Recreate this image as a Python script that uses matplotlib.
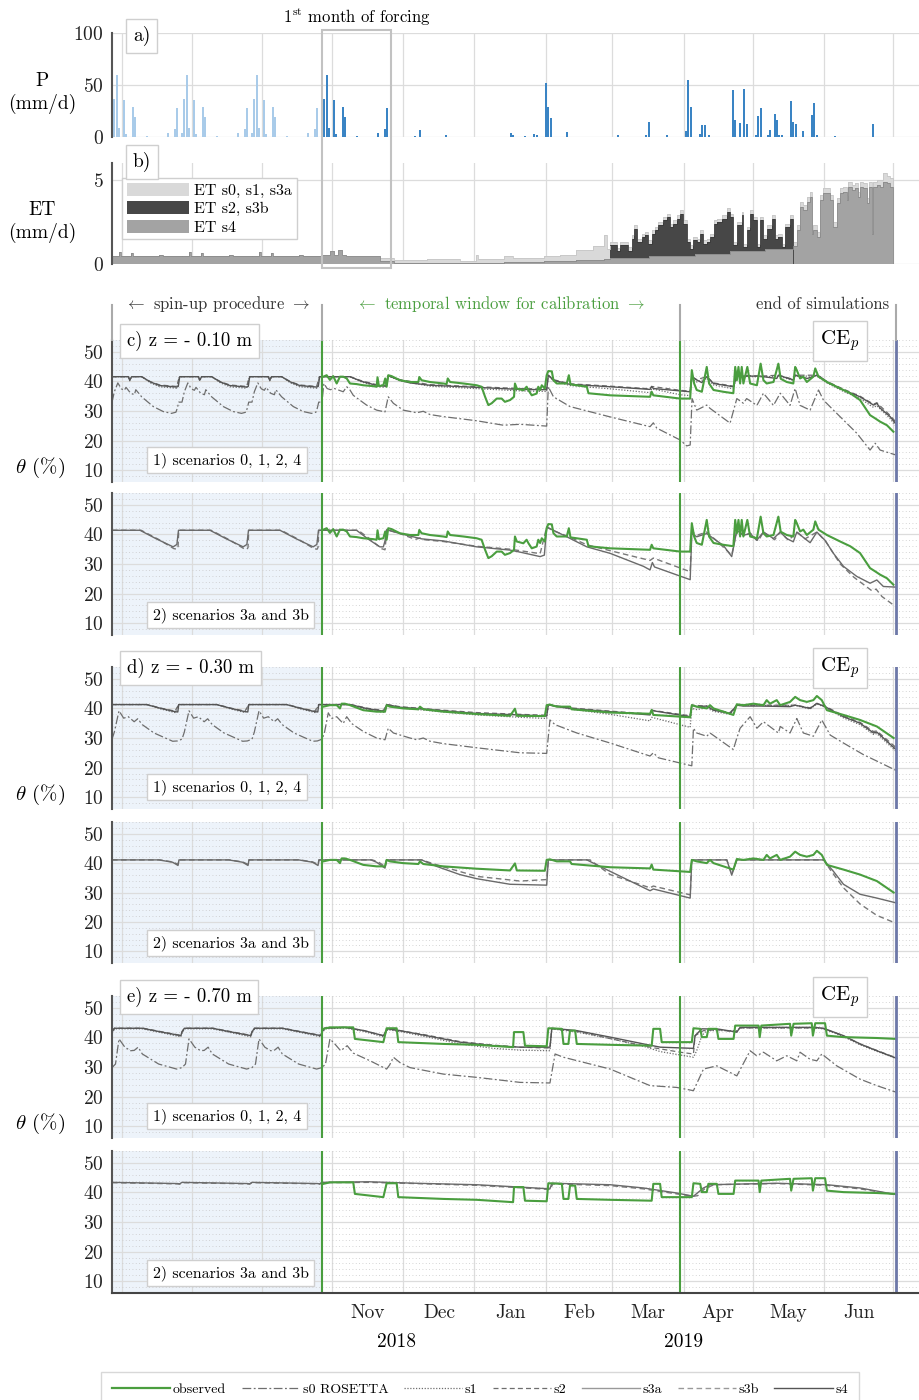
import matplotlib.pyplot as plt
from matplotlib.lines import Line2D
from matplotlib.patches import Patch, Rectangle
from matplotlib.ticker import MultipleLocator

plt.rcParams['font.family'] = ['cmr10', 'DejaVu Serif']
plt.rcParams['mathtext.fontset'] = 'cm'
plt.rcParams['axes.formatter.use_mathtext'] = True
plt.rcParams['axes.unicode_minus'] = False

# time axis: days from the start of the calibration window,
# the spin-up replays the first month of forcing three times before day 0
SPIN_STARTS = [-90, -60, -30]
CAL_END = 153.4
SIM_END = 246.0
T0, T1 = -90.0, 256.3

month_lines = [-85.7, -55.7, -25.7, 4.5, 34.9, 65.3, 96.2, 124.3, 155.0, 184.6, 215.0, 244.9]
month_names = ['Nov', 'Dec', 'Jan', 'Feb', 'Mar', 'Apr', 'May', 'Jun']
year_names = ['2018', '2019']
year_days = [32, 155]

# ---- precipitation (mm/d) ----
p_month1_day = [0, 1, 2, 3, 5, 6, 9, 10, 15, 24, 27, 28]
p_month1_mm = [4, 37, 60, 9, 36, 3, 29, 19, 1, 3.5, 7.5, 28]
p_day = [40, 42, 53, 81, 82, 87, 91, 92, 96, 97, 98, 105, 127, 139, 140, 148,
         156, 157, 158, 162, 163, 164, 166, 176, 177, 179, 181, 182, 186, 187, 188,
         191, 192, 194, 195, 196, 197, 201, 202, 203, 206, 210, 211, 212, 220, 236]
p_mm = [1, 6.5, 2, 4, 2, 1, 3, 1.5, 51.6, 28.4, 18.6, 4.6, 1.6, 1.5, 14.4, 1.6,
        6, 55, 29, 3, 12, 12, 1.5, 45, 16, 13.7, 46, 12.5, 2, 20, 27.8,
        2, 7, 22, 16, 1.5, 1.5, 34.6, 14, 12.4, 5.6, 21, 32.4, 2, 0.5, 12.4]

# ---- evapotranspiration (mm/d), step series ----
et_spin_day = [0, 3, 4, 8, 9, 15, 20, 22, 30]
et_spin = [0.45, 0.7, 0.45, 0.65, 0.5, 0.45, 0.55, 0.45, 0.45]

et_early_day = [0, 3.5, 5, 7, 8.5, 10.5, 25, 31, 45, 59, 66, 67, 78, 82, 95, 102, 109, 116, 121, 122]
et_s4_early = [0.55, 0.75, 0.55, 0.85, 0.55, 0.5, 0.15, 0.08, 0.06, 0.06, 0.08, 0.08, 0.1, 0.12,
               0.15, 0.18, 0.22, 0.25, 0.3, 0.32]
et_s0_early = [0.55, 0.75, 0.55, 0.85, 0.55, 0.5, 0.35, 0.25, 0.3, 0.2, 0.55, 0.3, 0.45, 0.35,
               0.45, 0.55, 0.85, 1.05, 1.75, 0.9]

et_mid_day = [123.5, 126.3, 127.7, 131.3, 132.7, 133.7, 134.9, 137, 138.5, 139.9,
              141.3, 142.7, 144.2, 146.3, 147.7, 149.2, 150.6, 152, 153.5, 154.9,
              156.3, 157.7, 159.2, 160.6, 162, 163.5, 164.9, 166.3, 167.8, 169.2,
              171.3, 173.5, 174.9, 176.3, 177.8, 179.9, 180.6, 182, 183.5, 184.9,
              186.3, 187.8, 189.2, 190.6, 192.8, 194.2, 195.6, 197, 198.5, 200.6]
et_s2_mid = [1.15, 0.8, 1.15, 0.8, 1.5, 2.1, 1.3, 1.6, 1.7, 1.2,
             1.8, 2.0, 2.3, 2.6, 2.8, 2.2, 2.4, 2.7, 3.0, 2.4,
             1.3, 0.9, 1.4, 1.3, 1.8, 1.2, 1.3, 1.6, 2.4, 2.5,
             2.7, 3.1, 2.8, 1.1, 2.3, 2.9, 1.0, 2.0, 3.0, 2.6,
             1.0, 2.6, 1.5, 2.1, 2.7, 1.5, 1.6, 1.0, 2.2, 2.7]
et_s0_mid = [1.3, 0.95, 1.3, 1.0, 1.7, 2.3, 1.5, 1.8, 1.9, 1.4,
             2.0, 2.2, 2.5, 2.8, 3.0, 2.4, 2.6, 2.9, 3.2, 2.6,
             1.5, 1.1, 1.6, 1.5, 2.0, 1.4, 1.5, 1.8, 2.6, 2.7,
             2.9, 3.3, 3.0, 1.3, 2.5, 3.1, 1.2, 2.2, 3.2, 2.8,
             1.2, 2.8, 1.7, 2.3, 2.9, 1.7, 1.8, 1.2, 2.4, 2.9]
et_s4_mid_day = [123.5, 140, 160, 175, 190]
et_s4_mid = [0.35, 0.45, 0.6, 0.75, 0.9]

et_late_day = [202, 203.5, 204.9, 206.3, 207.8, 209.2, 209.9, 210.6, 212, 213.5,
               214.9, 217.8, 219.2, 220.6, 222, 223.5, 224.9, 225.6, 227, 228.5,
               229.9, 230.6, 232, 233.5, 234.6, 235.6, 236.3, 237.8, 239.2, 240.6,
               242, 243.5, 244.6]
et_s4_late = [1.05, 2.0, 3.4, 3.2, 3.7, 4.0, 1.8, 2.0, 1.6, 3.8,
              4.2, 3.8, 2.2, 3.6, 4.2, 4.3, 3.8, 4.6, 4.4, 4.5,
              4.0, 4.6, 4.5, 3.6, 4.6, 1.8, 4.6, 4.7, 4.6, 4.9,
              4.8, 4.6, 0.0]
et_s0_late = [1.3, 2.3, 3.7, 3.5, 4.0, 4.3, 2.0, 2.3, 1.9, 4.1,
              4.5, 4.1, 2.5, 3.9, 4.5, 4.6, 4.1, 4.9, 4.7, 4.8,
              4.3, 4.9, 4.8, 3.9, 4.9, 2.0, 4.9, 5.0, 5.0, 5.4,
              5.2, 5.1, 0.0]

# ---- soil moisture theta (%) at z = -0.10 m ----
c_obs = [(0.6, 41.6), (2.0, 42.1), (3.4, 40.5), (4.8, 41.8), (6.3, 39.3), (7.7, 41.6), (9.1, 41.6),
         (10.6, 41.0), (12.0, 39.3), (14.8, 39.1), (17.7, 38.7), (22.0, 38.4), (23.4, 38.2), (23.8, 41.4),
         (24.4, 38.4), (26.3, 38.7), (27.1, 41.0), (27.7, 38.2), (28.4, 42.1), (29.8, 41.8), (33.4, 40.4),
         (37.7, 39.8), (41.3, 39.8), (41.7, 41.5), (42.7, 40.4), (46.3, 39.8), (52.0, 39.3), (53.4, 39.1),
         (53.9, 41.0), (54.9, 39.8), (60.6, 39.3), (66.3, 38.7), (68.4, 38.2), (69.9, 34.8), (71.3, 32.0),
         (72.7, 32.6), (74.9, 34.2), (77.0, 34.2), (78.4, 33.1), (80.6, 33.7), (82.3, 34.8), (82.7, 39.3),
         (83.5, 37.6), (86.3, 37.0), (87.7, 38.2), (88.5, 37.0), (89.9, 35.3), (92.0, 35.9), (92.7, 38.2),
         (93.5, 37.1), (94.2, 38.7), (95.5, 37.6), (96.3, 42.1), (97.0, 43.5), (98.5, 43.4), (99.2, 40.4),
         (100.6, 39.3), (104.9, 39.3), (105.8, 42.1), (106.5, 39.0), (113.5, 38.2), (114.2, 36.0),
         (123.5, 35.3), (140.6, 34.8), (141.3, 36.5), (142.0, 35.3), (153.5, 34.2), (157.8, 34.2),
         (158.5, 43.8), (159.5, 39.3), (160.6, 37.1), (162.8, 36.5), (164.9, 44.9), (165.9, 39.3),
         (167.8, 37.1), (172.0, 36.5), (176.3, 36.0), (177.1, 44.9), (177.8, 40.4), (178.5, 44.9),
         (179.2, 39.3), (179.9, 44.9), (180.6, 39.3), (182.3, 44.9), (183.5, 39.3), (186.4, 38.7),
         (188.0, 46.0), (189.2, 40.4), (190.6, 39.3), (193.5, 39.8), (195.6, 46.0), (196.6, 40.9),
         (199.2, 39.8), (202.0, 39.3), (202.8, 44.9), (203.5, 43.8), (204.9, 41.0), (206.3, 41.6),
         (207.8, 39.8), (210.6, 41.6), (211.4, 44.4), (212.8, 41.6), (216.4, 39.8), (222.1, 37.6),
         (226.4, 36.0), (230.6, 33.7), (234.9, 28.6), (237.1, 27.5), (239.2, 26.4), (242.1, 25.2),
         (244.9, 23.0)]
c_spin_s0 = [(0, 33.0), (1.0, 36.5), (2.5, 39.5), (4.0, 37.5), (5.3, 37.0), (6.0, 38.0), (8.0, 36.0),
             (9.6, 35.5), (10.2, 37.2), (12.7, 34.8), (17.7, 31.5), (22.0, 29.8), (25.5, 29.2),
             (27.4, 29.6), (28.0, 31.0), (28.6, 33.0), (30, 33.0)]
c_s0 = [(0, 33.0), (0.8, 39.3), (2.2, 37.6), (3.6, 37.2), (5.3, 37.6), (9.1, 36.5), (10.6, 38.2),
        (12.0, 37.1), (13.4, 35.3), (19.1, 32.0), (23.4, 30.3), (27.0, 29.7), (28.4, 34.8), (30.6, 32.6),
        (34.8, 30.3), (40.6, 29.4), (43.4, 29.9), (46.3, 28.8), (52.0, 28.1), (66.3, 26.7), (77.7, 25.2),
        (84.9, 25.5), (96.3, 24.9), (97.0, 38.2), (99.2, 34.8), (106.3, 31.5), (123.5, 28.0),
        (140.6, 24.7), (142.0, 26.0), (143.5, 24.2), (153.5, 20.2), (156.3, 18.2), (157.8, 18.5),
        (158.6, 34.2), (160.6, 30.3), (164.9, 32.0), (166.3, 30.9), (174.9, 25.9), (177.8, 34.2),
        (180.6, 32.6), (182.0, 34.2), (186.4, 31.9), (189.2, 36.0), (193.5, 31.9), (196.4, 36.0),
        (200.6, 31.9), (202.8, 37.6), (204.9, 31.9), (209.2, 30.3), (212.8, 37.1), (214.9, 33.7),
        (219.2, 30.3), (229.2, 22.5), (234.9, 16.8), (237.1, 19.1), (239.2, 16.8), (245.7, 15.2)]
c_spin_s1 = [(0, 41.6), (7.0, 41.6), (7.6, 40.2), (8.4, 41.6), (12.7, 41.6), (16.5, 39.5), (20.5, 38.2),
             (27.7, 37.7), (28.9, 41.6), (30, 41.6)]
c_s1 = [(0, 41.6), (12.0, 41.6), (17.0, 39.8), (23.4, 38.3), (27.1, 38.0), (28.4, 41.9), (33.4, 40.2),
        (46.3, 38.4), (60.6, 37.8), (84.9, 36.8), (96.3, 36.6), (97.0, 42.1), (99.2, 40.2), (106.3, 38.6),
        (123.5, 37.5), (140.6, 36.2), (141.3, 37.5), (153.5, 35.5), (157.8, 35.2), (158.5, 41.0),
        (160.6, 39.8), (164.9, 41.0), (167.8, 38.8), (176.3, 37.5), (177.8, 41.8), (188.0, 41.5),
        (195.6, 41.8), (202.0, 40.3), (202.8, 41.8), (212.1, 41.8), (216.4, 39.5), (223.5, 36.6),
        (230.6, 34.2), (236.4, 31.2), (237.8, 31.8), (243.5, 27.4), (245.7, 25.2)]
c_spin_s2 = [(0, 41.6), (7.0, 41.6), (7.6, 40.6), (8.4, 41.6), (12.7, 41.6), (16.5, 39.9), (20.5, 38.8),
             (27.7, 38.3), (28.9, 41.6), (30, 41.6)]
c_s2 = [(0, 41.6), (12.0, 41.6), (17.0, 40.2), (23.4, 38.9), (27.1, 38.6), (28.4, 41.9), (33.4, 40.6),
        (46.3, 38.9), (60.6, 38.4), (84.9, 37.6), (96.3, 37.4), (97.0, 42.1), (99.2, 40.6), (106.3, 39.2),
        (123.5, 38.4), (140.6, 37.5), (141.3, 38.3), (153.5, 37.0), (157.8, 36.7), (158.5, 41.6),
        (160.6, 40.6), (164.9, 41.6), (167.8, 39.5), (176.3, 38.4), (177.8, 42.1), (188.0, 41.8),
        (195.6, 42.1), (202.0, 40.7), (202.8, 42.1), (212.1, 42.1), (216.4, 40.0), (223.5, 37.4),
        (230.6, 35.0), (236.4, 32.3), (237.8, 32.8), (243.5, 28.5), (245.7, 26.5)]
c_spin_s4 = [(0, 41.6), (7.0, 41.6), (7.6, 40.4), (8.4, 41.6), (12.7, 41.6), (16.5, 39.8), (20.5, 38.6),
             (27.7, 38.1), (28.4, 38.3), (29.0, 41.6), (30, 41.6)]
c_s4 = [(0, 41.6), (12.0, 41.6), (17.0, 40.0), (23.4, 38.7), (27.1, 38.4), (27.7, 38.6), (28.4, 41.9),
        (33.4, 40.4), (37.7, 39.5), (46.3, 38.7), (60.6, 38.2), (84.9, 37.3), (96.3, 37.2), (97.0, 42.1),
        (99.2, 40.4), (106.3, 39.0), (123.5, 38.2), (140.6, 37.3), (141.3, 38.3), (142.0, 37.6),
        (153.5, 36.8), (157.8, 36.5), (158.5, 41.6), (160.6, 40.5), (162.8, 39.6), (164.9, 41.6),
        (167.8, 39.3), (176.3, 38.2), (177.8, 42.1), (179.2, 41.8), (188.0, 41.8), (189.2, 41.6),
        (194.9, 41.0), (195.6, 42.1), (202.0, 40.5), (202.8, 42.1), (208.0, 41.0), (212.1, 42.1),
        (213.5, 41.6), (216.4, 39.8), (223.5, 37.1), (230.6, 34.8), (236.4, 32.0), (237.8, 32.6),
        (239.2, 31.0), (243.5, 28.1), (245.7, 25.9)]
c_spin_s3a = [(0, 41.4), (12.0, 41.4), (19.0, 38.5), (26.2, 35.8), (27.8, 36.6), (28.5, 41.4), (30, 41.4)]
c_s3a = [(0, 41.4), (14.8, 41.4), (20.0, 38.3), (24.8, 35.8), (26.3, 35.8), (27.0, 37.8), (27.7, 41.6),
         (33.4, 40.3), (42.7, 38.5), (52.0, 37.8), (66.3, 35.8), (80.6, 34.7), (85.0, 34.0), (93.5, 32.5),
         (95.3, 33.0), (96.3, 42.5), (99.2, 41.4), (104.9, 39.2), (113.5, 35.8), (123.5, 33.6),
         (137.8, 29.2), (140.6, 28.0), (141.6, 30.5), (142.5, 29.0), (157.8, 24.7), (158.5, 40.3),
         (160.6, 39.2), (164.9, 40.3), (167.8, 38.6), (172.0, 36.3), (175.6, 32.5), (177.8, 41.4),
         (180.6, 39.7), (183.5, 40.3), (186.3, 38.0), (189.2, 40.8), (193.5, 38.6), (196.4, 40.8),
         (199.2, 38.6), (202.0, 37.5), (203.5, 40.8), (206.3, 39.0), (209.2, 37.2), (212.1, 40.8),
         (215.6, 38.0), (219.2, 33.6), (223.5, 29.2), (229.2, 25.8), (234.9, 23.5), (237.8, 24.6),
         (240.6, 22.4), (245.7, 22.2)]
c_spin_s3b = [(0, 41.4), (12.5, 41.4), (20.0, 38.3), (26.5, 35.2), (27.9, 35.0), (28.3, 35.6), (28.6, 41.4),
              (30, 41.4)]
c_s3b = [(0, 41.4), (15.5, 41.4), (20.5, 38.5), (25.5, 35.2), (27.0, 34.8), (27.8, 41.6), (33.4, 40.3),
         (40.0, 38.3), (42.0, 38.8), (44.0, 38.2), (52.0, 37.6), (66.3, 36.0), (80.6, 35.0), (93.5, 33.5),
         (96.3, 42.5), (99.2, 41.2), (104.9, 39.5), (113.5, 36.5), (123.5, 34.5), (140.6, 31.2),
         (142.0, 32.0), (157.8, 27.4), (158.5, 40.8), (161.0, 39.8), (164.9, 40.8), (168.5, 38.3),
         (175.6, 33.0), (177.8, 41.4), (181.0, 39.5), (183.5, 40.5), (187.0, 37.8), (189.2, 40.8),
         (194.0, 38.2), (196.4, 40.8), (200.0, 38.0), (203.5, 40.8), (207.0, 38.5), (212.1, 40.8),
         (216.0, 37.5), (222.1, 30.0), (228.0, 25.5), (235.6, 21.0), (237.5, 21.5), (240.0, 19.0),
         (245.7, 15.7)]

# ---- soil moisture theta (%) at z = -0.30 m ----
d_obs = [(0.6, 40.6), (3.4, 41.1), (6.3, 41.1), (7.7, 40.0), (8.4, 41.6), (9.8, 41.6), (12.0, 41.1),
         (17.7, 39.4), (23.4, 38.9), (27.0, 38.9), (27.7, 41.1), (29.1, 40.6), (34.8, 40.0), (41.3, 39.7),
         (42.0, 40.6), (43.4, 39.7), (52.0, 38.9), (66.3, 38.1), (80.6, 37.5), (82.7, 39.9), (83.5, 37.5),
         (95.5, 37.4), (96.3, 41.1), (97.7, 41.3), (100.6, 40.6), (106.3, 40.6), (107.0, 39.7),
         (123.5, 38.6), (140.6, 38.2), (141.3, 39.5), (142.0, 37.8), (157.8, 37.0), (158.5, 41.1),
         (160.6, 40.6), (164.9, 40.0), (166.3, 41.1), (167.8, 40.0), (176.3, 37.8), (177.8, 41.4),
         (180.6, 41.1), (184.9, 41.6), (189.2, 41.1), (190.6, 42.8), (192.0, 41.6), (194.9, 42.8),
         (196.4, 41.1), (200.6, 42.2), (202.8, 43.9), (204.9, 42.8), (207.8, 42.2), (210.6, 42.8),
         (212.1, 44.2), (214.2, 42.8), (216.4, 39.4), (223.5, 37.8), (230.6, 36.1), (237.8, 33.9),
         (245.0, 30.0)]
d_spin_s0 = [(0, 29.6), (1.0, 32.0), (3.0, 39.2), (5.0, 36.7), (7.0, 37.2), (9.5, 35.5), (11.0, 36.5),
             (13.0, 34.5), (18.0, 31.7), (26.0, 28.9), (28.0, 29.0), (30, 29.6)]
d_s0 = [(0, 29.6), (1.0, 31.6), (2.7, 38.5), (4.1, 36.6), (6.3, 37.2), (9.1, 34.9), (10.6, 37.2),
        (12.7, 34.9), (17.7, 32.2), (23.4, 30.0), (27.0, 29.4), (28.4, 33.3), (30.6, 31.7), (37.7, 30.0),
        (40.6, 29.4), (43.4, 30.0), (46.3, 28.9), (52.0, 28.1), (66.3, 26.7), (84.9, 25.0), (96.3, 24.8),
        (97.7, 36.1), (99.9, 34.5), (109.2, 31.7), (123.5, 28.3), (140.6, 23.9), (142.0, 25.0),
        (144.2, 23.3), (158.5, 20.6), (159.2, 33.3), (160.6, 31.7), (164.9, 30.6), (166.3, 31.7),
        (176.3, 26.1), (177.8, 30.0), (179.2, 33.3), (183.5, 37.2), (186.4, 33.3), (189.2, 35.5),
        (195.6, 31.7), (196.4, 33.9), (200.6, 31.7), (203.5, 36.6), (206.3, 31.7), (210.6, 30.6),
        (214.2, 36.1), (217.8, 31.0), (223.5, 28.3), (232.0, 24.4), (237.8, 22.2), (246.4, 18.9)]
d_spin_s1 = [(0, 41.3), (14.8, 41.3), (21.0, 39.8), (27.0, 38.6), (28.6, 41.3), (30, 41.3)]
d_s1 = [(0, 41.3), (12.0, 41.3), (20.0, 39.5), (26.3, 38.7), (27.7, 41.3), (33.4, 40.2), (52.0, 38.8),
        (66.3, 37.8), (84.9, 37.0), (96.3, 36.6), (97.0, 41.3), (106.3, 39.8), (123.5, 38.0), (140.6, 35.8),
        (141.3, 37.0), (157.8, 33.6), (158.5, 40.0), (160.6, 39.6), (164.9, 40.2), (167.8, 39.0),
        (174.9, 38.0), (177.8, 41.0), (202.8, 41.0), (209.2, 39.8), (212.1, 41.5), (215.6, 40.4),
        (223.5, 36.8), (230.6, 34.5), (236.4, 31.2), (237.8, 31.5), (246.0, 25.5)]
d_spin_s2 = [(0, 41.3), (15.2, 41.3), (21.0, 40.1), (27.0, 39.1), (28.6, 41.3), (30, 41.3)]
d_s2 = [(0, 41.3), (12.5, 41.3), (20.0, 40.0), (26.3, 39.3), (27.7, 41.3), (33.4, 40.6), (52.0, 39.4),
        (66.3, 38.6), (84.9, 38.0), (96.3, 37.7), (97.0, 41.3), (106.3, 40.2), (123.5, 39.1),
        (140.6, 38.1), (141.3, 39.4), (157.8, 37.5), (158.5, 41.1), (164.9, 40.8), (167.8, 39.6),
        (174.9, 38.6), (177.8, 41.1), (202.8, 41.1), (209.2, 40.2), (212.1, 41.7), (215.6, 40.8),
        (223.5, 37.5), (230.6, 35.3), (236.4, 32.2), (237.8, 32.4), (246.0, 26.8)]
d_spin_s4 = [(0, 41.3), (14.8, 41.3), (21.0, 40.0), (27.0, 38.9), (28.2, 38.8), (28.6, 41.3), (30, 41.3)]
d_s4 = [(0, 41.3), (12.0, 41.3), (20.0, 39.8), (26.3, 39.1), (27.0, 38.9), (27.7, 41.3), (33.4, 40.4),
        (42.0, 39.9), (52.0, 39.2), (66.3, 38.3), (84.9, 37.8), (96.3, 37.4), (97.0, 41.3), (99.2, 40.8),
        (106.3, 40.0), (123.5, 38.9), (140.6, 37.8), (141.3, 39.4), (142.0, 39.2), (157.8, 37.2),
        (158.5, 41.1), (160.6, 40.6), (164.9, 40.8), (167.8, 39.4), (174.9, 38.3), (177.8, 41.1),
        (180.6, 40.8), (188.0, 40.8), (200.6, 40.6), (202.8, 41.1), (209.2, 40.0), (212.1, 41.7),
        (215.6, 40.6), (223.5, 37.2), (230.6, 35.0), (236.4, 31.7), (237.8, 32.0), (240.6, 30.0),
        (246.0, 26.1)]
d_spin_s3a = [(0, 41.1), (20.0, 41.1), (26.0, 40.3), (28.3, 39.2), (28.7, 41.1), (30, 41.1)]
d_s3a = [(0, 41.1), (21.0, 41.1), (23.4, 40.3), (27.0, 38.3), (27.7, 41.1), (42.7, 41.1), (49.1, 38.9),
         (59.1, 36.1), (66.3, 34.7), (80.6, 32.8), (96.3, 32.5), (97.0, 41.1), (113.5, 41.1), (123.5, 37.2),
         (140.6, 30.6), (142.0, 31.2), (157.8, 28.1), (158.5, 41.1), (173.5, 41.1), (175.6, 35.9),
         (177.8, 41.1), (215.0, 41.1), (219.2, 37.2), (223.5, 32.8), (230.6, 29.4), (237.8, 28.1),
         (246.4, 26.4)]
d_spin_s3b = [(0, 41.1), (20.5, 41.1), (26.0, 40.4), (28.3, 39.6), (28.7, 41.1), (30, 41.1)]
d_s3b = [(0, 41.1), (21.5, 41.1), (24.0, 40.5), (27.0, 38.8), (27.7, 41.1), (42.7, 41.1), (50.0, 39.2),
         (66.3, 35.5), (84.9, 33.9), (96.3, 34.4), (97.0, 41.1), (114.9, 41.1), (123.5, 36.1),
         (140.6, 31.6), (142.0, 32.2), (144.0, 31.8), (157.8, 29.2), (158.5, 41.1), (173.5, 41.1),
         (175.6, 36.3), (177.8, 41.1), (215.0, 41.1), (217.8, 37.8), (223.5, 31.6), (230.6, 26.1),
         (237.8, 22.2), (246.4, 19.4)]

# ---- soil moisture theta (%) at z = -0.70 m ----
e_obs = [(0.6, 42.9), (3.4, 43.4), (13.4, 43.4), (14.1, 39.5), (26.3, 38.4), (27.7, 43.1), (32.0, 43.1),
         (32.7, 38.4), (52.0, 37.8), (66.3, 37.5), (81.9, 36.7), (82.3, 41.8), (86.3, 41.8), (87.0, 37.2),
         (96.3, 37.0), (97.0, 43.1), (102.8, 42.9), (103.5, 37.8), (105.6, 37.8), (106.3, 42.3),
         (108.5, 42.3), (109.2, 37.8), (123.5, 37.5), (141.3, 37.2), (142.0, 42.9), (144.9, 42.9),
         (145.6, 38.4), (158.5, 38.4), (159.2, 43.1), (162.1, 42.9), (162.8, 40.1), (164.9, 40.1),
         (165.6, 42.9), (169.2, 42.9), (169.9, 39.5), (176.4, 39.5), (177.1, 44.0), (187.1, 44.0),
         (187.6, 40.1), (188.3, 44.0), (200.6, 44.6), (201.1, 40.6), (202.1, 44.6), (209.9, 44.8),
         (210.4, 40.6), (211.4, 44.8), (215.6, 44.8), (216.4, 40.6), (223.5, 40.1), (237.8, 39.8),
         (246.0, 39.5)]
e_spin_s0 = [(0, 29.8), (1.5, 31.0), (3.0, 39.5), (5.5, 36.7), (8.0, 35.5), (9.5, 35.6), (11.2, 36.7),
             (13.0, 34.4), (20.0, 31.0), (27.7, 29.3), (30, 29.8)]
e_s0 = [(0, 29.8), (1.5, 31.0), (3.4, 39.5), (5.5, 37.8), (8.0, 35.5), (10.8, 37.2), (13.4, 34.7),
        (20.6, 32.1), (27.7, 29.3), (29.0, 30.7), (30.6, 33.3), (33.4, 31.5), (37.7, 29.8), (52.0, 27.6),
        (66.3, 26.5), (84.9, 24.8), (97.7, 24.6), (99.9, 34.4), (103.5, 33.3), (123.5, 29.3),
        (140.6, 23.7), (152.0, 23.1), (159.2, 22.0), (163.5, 29.3), (169.2, 30.4), (177.8, 27.0),
        (183.5, 35.5), (186.3, 33.8), (189.2, 35.0), (194.9, 32.1), (199.2, 33.8), (203.5, 32.1),
        (204.9, 35.0), (209.2, 32.6), (212.1, 32.1), (214.2, 34.4), (220.6, 30.4), (230.6, 25.9),
        (237.8, 23.7), (246.4, 21.4)]
e_spin_s1 = [(0, 41.6), (1.2, 42.9), (13.0, 42.9), (20.0, 41.8), (29.5, 40.2), (30, 41.6)]
e_s1 = [(0, 41.6), (1.5, 42.9), (10.0, 43.2), (18.0, 42.0), (26.3, 40.2), (28.2, 42.6), (33.4, 42.0),
        (44.8, 40.2), (59.1, 37.8), (73.4, 36.3), (84.9, 35.7), (97.7, 35.5), (98.5, 42.9), (109.2, 41.8),
        (123.5, 39.6), (137.8, 37.0), (145.0, 35.2), (159.2, 33.3), (160.6, 35.5), (162.8, 40.6),
        (164.9, 42.3), (177.8, 42.3), (179.2, 43.2), (211.0, 43.2), (214.9, 42.9), (223.5, 40.3),
        (230.6, 37.5), (237.8, 35.3), (246.4, 32.8)]
e_spin_s2 = [(0, 42.0), (1.0, 43.1), (13.5, 43.1), (20.0, 42.1), (29.5, 40.7), (30, 42.0)]
e_s2 = [(0, 42.0), (1.2, 43.1), (10.0, 43.4), (18.0, 42.3), (26.3, 40.6), (28.0, 42.9), (33.4, 42.3),
        (44.8, 40.8), (59.1, 38.6), (73.4, 37.4), (84.9, 36.7), (97.7, 36.4), (98.5, 42.9), (109.2, 42.1),
        (123.5, 39.6), (140.6, 36.7), (153.5, 35.0), (159.2, 34.4), (159.9, 40.6), (163.5, 42.3),
        (170.0, 42.6), (177.8, 41.8), (179.2, 43.2), (211.0, 43.2), (214.9, 43.0), (223.5, 40.5),
        (230.6, 37.8), (237.8, 35.6), (246.4, 33.0)]
e_spin_s4 = [(0, 41.8), (1.0, 43.1), (13.0, 43.1), (20.0, 42.0), (29.5, 40.6), (30, 41.8)]
e_s4 = [(0, 41.8), (1.0, 43.1), (10.0, 43.4), (18.0, 42.3), (26.3, 40.6), (28.0, 42.9), (33.4, 42.3),
        (44.8, 40.6), (59.1, 38.4), (73.4, 37.2), (84.9, 36.7), (97.7, 36.7), (98.5, 43.1), (109.2, 42.3),
        (123.5, 40.1), (137.8, 37.8), (145.0, 36.7), (159.2, 36.3), (159.9, 40.6), (162.8, 42.9),
        (170.0, 42.8), (177.8, 41.8), (179.2, 43.4), (211.0, 43.4), (214.9, 43.1), (223.5, 40.6),
        (230.6, 37.8), (237.8, 35.5), (246.4, 32.9)]
e_spin_s3a = [(0, 43.4), (28.0, 43.0), (29.0, 42.9), (30, 43.4)]
e_s3a = [(0, 43.4), (20.0, 43.6), (40.0, 43.1), (66.3, 42.6), (84.9, 41.8), (97.7, 41.2), (98.5, 43.1),
         (123.5, 42.6), (137.8, 41.5), (152.0, 39.8), (159.2, 38.7), (163.5, 41.5), (166.3, 42.6),
         (195.0, 43.1), (216.4, 42.6), (230.6, 41.5), (246.4, 39.2)]
e_spin_s3b = [(0, 43.3), (28.0, 42.9), (29.0, 42.8), (30, 43.3)]
e_s3b = [(0, 43.3), (20.0, 43.4), (40.0, 43.0), (66.3, 42.4), (84.9, 41.6), (97.7, 41.0), (99.0, 42.9),
         (123.5, 42.3), (137.8, 41.2), (152.0, 39.5), (159.2, 38.7), (161.0, 38.9), (164.0, 41.2),
         (168.0, 42.6), (195.0, 43.0), (216.4, 42.4), (230.6, 41.2), (246.4, 39.2)]

# ---- styles ----
GREEN = '#4a9e3f'
END_BLUE = '#6d78a8'
SPIN_BG = '#edf3fa'
GRID = '#dcdcdc'
P_SPIN, P_OBS = '#a9cbe9', '#3a84c4'
ET_S0, ET_S2, ET_S4 = '#d9d9d9', '#474747', '#a3a3a3'
styles = {
    's0': dict(color='#6e6e6e', lw=0.9, dashes=(7, 2, 1.5, 2)),
    's1': dict(color='#6e6e6e', lw=0.9, dashes=(1, 1.3)),
    's2': dict(color='#6e6e6e', lw=0.9, dashes=(4, 2.5)),
    's3a': dict(color='#6a6a6a', lw=1.0, linestyle='-'),
    's3b': dict(color='#787878', lw=1.0, dashes=(4, 2.5)),
    's4': dict(color='#555555', lw=1.0, linestyle='-'),
}

W, H = 920, 1400
AX_L, AX_R = 112, 920
fig = plt.figure(figsize=(W / 100, H / 100), dpi=100)


def add_ax(top, bottom):
    return fig.add_axes([AX_L / W, 1 - bottom / H, (AX_R - AX_L) / W, (bottom - top) / H])


def ftext(x, y, s, **kw):
    return fig.text(x / W, 1 - y / H, s, **kw)


def t2x(t):
    return AX_L + (t - T0) / (T1 - T0) * (AX_R - AX_L)


def with_spinup(cycle, calib):
    t, v = [], []
    for start in SPIN_STARTS:
        for d, val in cycle:
            t.append(start + d)
            v.append(val)
    for d, val in calib:
        t.append(d)
        v.append(val)
    return t, v


def style_axes(ax, yticks, ylim):
    ax.set_xlim(T0, T1)
    ax.set_ylim(*ylim)
    ax.set_yticks(yticks)
    ax.set_xticks(month_lines)
    ax.set_axisbelow(True)
    ax.grid(which='major', color=GRID, lw=0.9)
    for side in ('top', 'right', 'bottom'):
        ax.spines[side].set_visible(False)
    ax.spines['left'].set_color('#555555')
    ax.spines['left'].set_linewidth(1.5)
    ax.tick_params(which='both', length=0, labelsize=14, pad=6, labelcolor='#222222')
    ax.tick_params(axis='x', labelbottom=False)


def box_text(x, y, s, size=13.5, **kw):
    return ftext(x, y, s, fontsize=size, va='center',
                 bbox=dict(boxstyle='square,pad=0.35', fc='white', ec='#cfcfcf', lw=1), **kw)


# ---- a) precipitation ----
ax_a = add_ax(33, 137)
style_axes(ax_a, [0, 50, 100], (0, 100))
for start in SPIN_STARTS:
    ax_a.bar([start + d for d in p_month1_day], p_month1_mm, width=0.85, color=P_SPIN, lw=0)
ax_a.bar(p_month1_day, p_month1_mm, width=0.85, color=P_OBS, lw=0)
ax_a.bar(p_day, p_mm, width=0.85, color=P_OBS, lw=0)
box_text(133, 36, 'a)', size=14)
ftext(42, 93, 'P\n(mm/d)', fontsize=14, ha='center', va='center', linespacing=1.3)

# ---- b) evapotranspiration ----
ax_b = add_ax(163, 264)
style_axes(ax_b, [0, 5], (0, 6))
et_s0_day = et_early_day + et_mid_day + et_late_day
et_s0 = et_s0_early + et_s0_mid + et_s0_late
et_s2_day = et_mid_day + [202]
et_s2 = et_s2_mid + [0.0]
et_s4_day = et_early_day + et_s4_mid_day + et_late_day
et_s4 = et_s4_early + et_s4_mid + et_s4_late
for days, vals, fc, ec in [(et_s0_day, et_s0, ET_S0, '#c6c6c6'),
                           (et_s2_day, et_s2, ET_S2, '#3a3a3a'),
                           (et_s4_day, et_s4, ET_S4, '#8a8a8a')]:
    ax_b.fill_between(days, vals, step='post', color=fc, lw=0)
    ax_b.step(days, vals, where='post', color=ec, lw=0.6)
for start in SPIN_STARTS:
    sd = [start + d for d in et_spin_day]
    ax_b.fill_between(sd, et_spin, step='post', color=ET_S4, lw=0)
    ax_b.step(sd, et_spin, where='post', color='#8a8a8a', lw=0.6)
box_text(133, 162, 'b)', size=14)
ftext(42, 222, 'ET\n(mm/d)', fontsize=14, ha='center', va='center', linespacing=1.3)
et_handles = [Patch(fc=ET_S0, label='ET s0, s1, s3a'),
              Patch(fc=ET_S2, label='ET s2, s3b'),
              Patch(fc=ET_S4, label='ET s4')]
ax_b.legend(handles=et_handles, loc='upper left', bbox_to_anchor=(122 / W, 1 - 178 / H),
            bbox_transform=fig.transFigure, fontsize=11.5, frameon=True, fancybox=False,
            edgecolor='#cfcfcf', framealpha=1, handlelength=3.9, handleheight=0.9,
            labelspacing=0.2, handletextpad=0.3, borderpad=0.3, borderaxespad=0)

# first month of forcing
fig.patches.append(Rectangle((t2x(0) / W, 1 - 268 / H), (t2x(29.6) - t2x(0)) / W, 238 / H,
                             transform=fig.transFigure, fill=False, ec='#c2c2c2', lw=1.5))
ftext(t2x(14.8), 17, r'1$^{\rm st}$ month of forcing', fontsize=12, ha='center', va='center')

# ---- header between forcing and soil moisture ----
for t in (T0, 0, CAL_END, SIM_END):
    fig.add_artist(Line2D([t2x(t) / W] * 2, [1 - 305 / H, 1 - 340 / H], color='#aaaaaa', lw=1.5))
ftext(t2x(-45), 304, r'$\leftarrow$ spin-up procedure $\rightarrow$', fontsize=12,
      ha='center', va='center', color='#333333')
ftext(t2x(CAL_END / 2), 304, r'$\leftarrow$ temporal window for calibration $\rightarrow$',
      fontsize=12, ha='center', va='center', color=GREEN)
ftext(889, 304, 'end of simulations', fontsize=12, ha='right', va='center', color='#333333')


def theta_panel(top, bottom, obs, series):
    ax = add_ax(top, bottom)
    style_axes(ax, [10, 20, 30, 40, 50], (6, 54))
    ax.yaxis.set_minor_locator(MultipleLocator(2))
    ax.grid(axis='y', which='minor', color='#c8c8c8', lw=0.6, linestyle=(0, (1, 3)))
    ax.axvspan(T0, 0, color=SPIN_BG, lw=0, zorder=0)
    for name, cycle, calib in series:
        t, v = with_spinup(cycle, calib)
        ax.plot(t, v, **styles[name])
    ax.plot([p[0] for p in obs], [p[1] for p in obs], color=GREEN, lw=1.5)
    ax.axvline(0, color=GREEN, lw=1.5)
    ax.axvline(CAL_END, color=GREEN, lw=1.5)
    ax.axvline(SIM_END, color=END_BLUE, lw=2)
    return ax


groups = [
    ('c) z = - 0.10 m', (340, 482, 493, 635), c_obs,
     [('s0', c_spin_s0, c_s0), ('s1', c_spin_s1, c_s1), ('s2', c_spin_s2, c_s2), ('s4', c_spin_s4, c_s4)],
     [('s3b', c_spin_s3b, c_s3b), ('s3a', c_spin_s3a, c_s3a)]),
    ('d) z = - 0.30 m', (667, 809, 822, 963), d_obs,
     [('s0', d_spin_s0, d_s0), ('s1', d_spin_s1, d_s1), ('s2', d_spin_s2, d_s2), ('s4', d_spin_s4, d_s4)],
     [('s3b', d_spin_s3b, d_s3b), ('s3a', d_spin_s3a, d_s3a)]),
    ('e) z = - 0.70 m', (996, 1138, 1151, 1293), e_obs,
     [('s0', e_spin_s0, e_s0), ('s1', e_spin_s1, e_s1), ('s2', e_spin_s2, e_s2), ('s4', e_spin_s4, e_s4)],
     [('s3b', e_spin_s3b, e_s3b), ('s3a', e_spin_s3a, e_s3a)]),
]

ax_last = None
for title, (t1, b1, t2, b2), obs, first, second in groups:
    ax1 = theta_panel(t1, b1, obs, first)
    ax2 = theta_panel(t2, b2, obs, second)
    box_text(127, t1 + 1, title, size=13.5)
    ftext(840, t1 + 1, r'CE$_p$', fontsize=15, ha='center',
          va='center', bbox=dict(boxstyle='square,pad=0.35', fc='white', ec='#cfcfcf', lw=1))
    box_text(153, b1 - 22, '1) scenarios 0, 1, 2, 4', size=11.5)
    box_text(153, b2 - 20, '2) scenarios 3a and 3b', size=11.5)
    ftext(40, b1 - 14, r'$\theta$ (%)', fontsize=15, ha='center', va='center')
    ax_last = ax2

# month and year labels under the last panel
ax_last.spines['bottom'].set_visible(True)
ax_last.spines['bottom'].set_color('#444444')
ax_last.spines['bottom'].set_linewidth(1.5)
mids = [(month_lines[i + 3] + month_lines[i + 4]) / 2 for i in range(len(month_names))]
ax_last.set_xticks(mids, month_names, minor=True)
ax_last.tick_params(axis='x', which='minor', length=0, labelbottom=True, labelsize=14, pad=8)
for name, day in zip(year_names, year_days):
    ftext(t2x(day), 1342, name, fontsize=14, ha='center', va='center')

# bottom legend
leg_handles = [Line2D([], [], color=GREEN, lw=1.6, label='observed'),
               Line2D([], [], label='s0 ROSETTA', **styles['s0']),
               Line2D([], [], label='s1', **styles['s1']),
               Line2D([], [], label='s2', **styles['s2']),
               Line2D([], [], label='s3a', color='#999999', lw=1.0),
               Line2D([], [], label='s3b', color='#999999', lw=1.0, dashes=(4, 2.5)),
               Line2D([], [], label='s4', **styles['s4'])]
fig.legend(handles=leg_handles, loc='upper center', bbox_to_anchor=(480 / W, 1 - 1365 / H),
           ncol=7, fontsize=10, frameon=True, fancybox=False, edgecolor='#cfcfcf',
           handlelength=4.2, handletextpad=0.2, columnspacing=1.1, borderpad=0.8)

fig.savefig('out.png', dpi=100)
